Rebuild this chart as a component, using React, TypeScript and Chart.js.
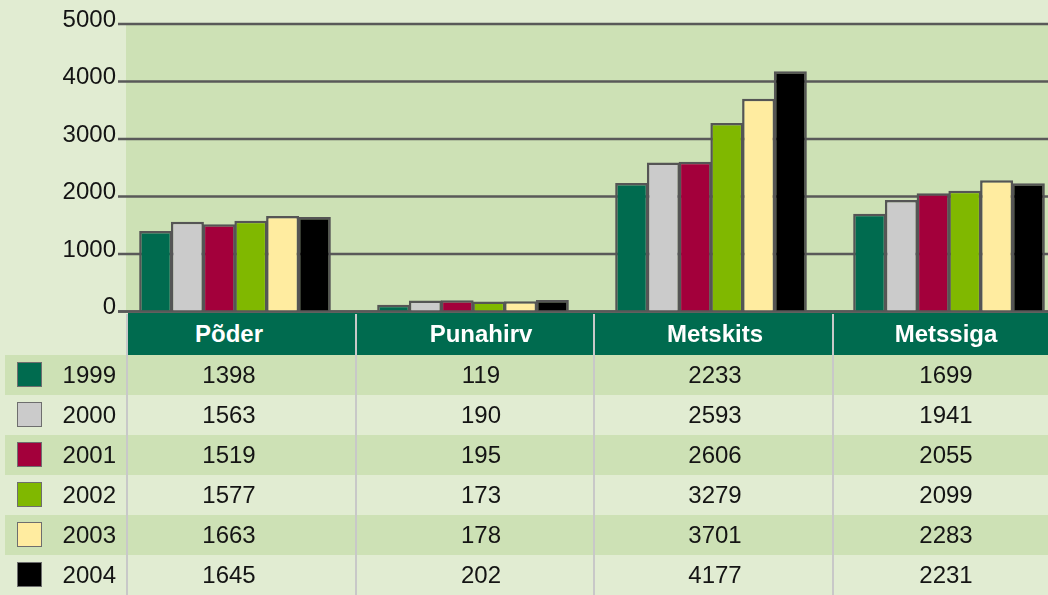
import React, { useEffect, useRef } from "react";
import { Chart, registerables } from "chart.js";

Chart.register(...registerables);

// ---- data ----
const categories = ["Põder", "Punahirv", "Metskits", "Metssiga"];
const years = ["1999", "2000", "2001", "2002", "2003", "2004"];
const v1999 = [1398, 119, 2233, 1699];
const v2000 = [1563, 190, 2593, 1941];
const v2001 = [1519, 195, 2606, 2055];
const v2002 = [1577, 173, 3279, 2099];
const v2003 = [1663, 178, 3701, 2283];
const v2004 = [1645, 202, 4177, 2231];
const seriesValues = [v1999, v2000, v2001, v2002, v2003, v2004];
const seriesColors = ["#006b4f", "#cbcbcb", "#a3003b", "#80b800", "#ffeca0", "#000000"];
const yTicks = [0, 1000, 2000, 3000, 4000, 5000];

// ---- styles ----
const PAGE_BG = "#e1ecd2";
const PLOT_BG = "#cde1b5";
const HEADER_BG = "#006b4f";
const GRID = "#595959";
const BAR_BORDER = "#555555";
const SEP = "#c8c8c8";
const FONT = "'Liberation Sans', Arial, sans-serif";
const TEXT = "#141414";

const CANVAS_W = 1068;
const CANVAS_H = 340;
const AXIS_W = 116;
const PLOT_LEFT = 126;
const GRID_LEFT = 118;

const HEADER_TOP = 313;
const HEADER_H = 42;
const ROW_TOP = 355;
const ROW_H = 40;
const COL_CENTERS = [229, 481, 715, 946];
const SEPARATORS = [126, 355, 593, 832];

const bgGridPlugin = {
  id: "bgGrid",
  beforeDatasetsDraw(chart: any) {
    const { ctx } = chart;
    const y = chart.scales.y;
    const top = y.getPixelForValue(5000);
    const bottom = y.getPixelForValue(0);
    ctx.save();
    ctx.fillStyle = PLOT_BG;
    ctx.fillRect(PLOT_LEFT, top, chart.width - PLOT_LEFT, bottom - top);
    ctx.strokeStyle = GRID;
    ctx.lineWidth = 2.4;
    y.ticks.forEach((t: any) => {
      const py = y.getPixelForValue(t.value);
      ctx.beginPath();
      ctx.moveTo(GRID_LEFT, py);
      ctx.lineTo(chart.width, py);
      ctx.stroke();
    });
    ctx.restore();
  },
  afterDatasetsDraw(chart: any) {
    const { ctx } = chart;
    const y = chart.scales.y;
    const py = y.getPixelForValue(0);
    ctx.save();
    ctx.strokeStyle = GRID;
    ctx.lineWidth = 2.4;
    ctx.beginPath();
    ctx.moveTo(GRID_LEFT, py);
    ctx.lineTo(chart.width, py);
    ctx.stroke();
    ctx.restore();
  },
};

export default function App() {
  const ref = useRef<HTMLCanvasElement>(null);

  useEffect(() => {
    if (!ref.current) return;
    const chart = new Chart(ref.current, {
      type: "bar",
      data: {
        labels: categories,
        datasets: years.map((yr, i) => ({
          label: yr,
          data: seriesValues[i],
          backgroundColor: seriesColors[i],
          borderColor: BAR_BORDER,
          borderWidth: 2.5,
          borderSkipped: "start",
          categoryPercentage: 0.8,
          barPercentage: 1.04,
        })),
      },
      options: {
        animation: false,
        responsive: false,
        maintainAspectRatio: false,
        layout: { padding: { top: 24, bottom: CANVAS_H - 311.5, left: 0, right: 0 } },
        plugins: { legend: { display: false }, tooltip: { enabled: false } },
        scales: {
          x: { display: false, offset: true },
          y: {
            min: 0,
            max: 5000,
            afterBuildTicks: (scale: any) => {
              scale.ticks = yTicks.map((v) => ({ value: v }));
            },
            afterFit: (scale: any) => {
              scale.width = AXIS_W;
            },
            grid: { display: false, drawTicks: false },
            border: { display: false },
            ticks: {
              padding: 0,
              labelOffset: -4,
              color: TEXT,
              font: { family: FONT, size: 24 },
              callback: (v: any) => String(v),
            },
          },
        },
      },
      plugins: [bgGridPlugin],
    });
    return () => chart.destroy();
  }, []);

  return (
    <div
      style={{
        position: "absolute",
        left: 0,
        top: 0,
        width: 1048,
        height: 595,
        overflow: "hidden",
        background: PAGE_BG,
        fontFamily: FONT,
        color: TEXT,
      }}
    >
      <canvas
        ref={ref}
        width={CANVAS_W}
        height={CANVAS_H}
        style={{ position: "absolute", left: 0, top: 0, width: CANVAS_W, height: CANVAS_H }}
      />
      {years.map((yr, i) =>
        i % 2 === 0 ? (
          <div
            key={"band" + yr}
            style={{
              position: "absolute",
              left: 5,
              top: ROW_TOP + i * ROW_H,
              width: 1048 - 5,
              height: ROW_H,
              background: PLOT_BG,
            }}
          />
        ) : null
      )}
      <div
        style={{
          position: "absolute",
          left: 128,
          top: HEADER_TOP,
          width: 1048 - 128,
          height: HEADER_H,
          background: HEADER_BG,
        }}
      />
      {SEPARATORS.map((x) => (
        <div
          key={"sep" + x}
          style={{ position: "absolute", left: x, top: HEADER_TOP + 1, width: 2, height: 595 - HEADER_TOP, background: SEP }}
        />
      ))}
      {categories.map((c, j) => (
        <div
          key={"h" + c}
          style={{
            position: "absolute",
            left: COL_CENTERS[j] - 100,
            width: 200,
            top: HEADER_TOP,
            height: HEADER_H,
            lineHeight: HEADER_H + "px",
            textAlign: "center",
            color: "#ffffff",
            fontWeight: "bold",
            fontSize: 24,
          }}
        >
          {c}
        </div>
      ))}
      {years.map((yr, i) => (
        <React.Fragment key={"row" + yr}>
          <div
            style={{
              position: "absolute",
              left: 17,
              top: ROW_TOP + i * ROW_H + 7,
              width: 23,
              height: 23,
              background: seriesColors[i],
              border: "1px solid #6e6e6e",
            }}
          />
          <div
            style={{
              position: "absolute",
              left: 40,
              width: 76,
              top: ROW_TOP + i * ROW_H,
              height: ROW_H,
              lineHeight: ROW_H + "px",
              textAlign: "right",
              fontSize: 24,
            }}
          >
            {yr}
          </div>
          {seriesValues[i].map((v, j) => (
            <div
              key={"v" + j}
              style={{
                position: "absolute",
                left: COL_CENTERS[j] - 100,
                width: 200,
                top: ROW_TOP + i * ROW_H,
                height: ROW_H,
                lineHeight: ROW_H + "px",
                textAlign: "center",
                fontSize: 24,
              }}
            >
              {v}
            </div>
          ))}
        </React.Fragment>
      ))}
    </div>
  );
}
